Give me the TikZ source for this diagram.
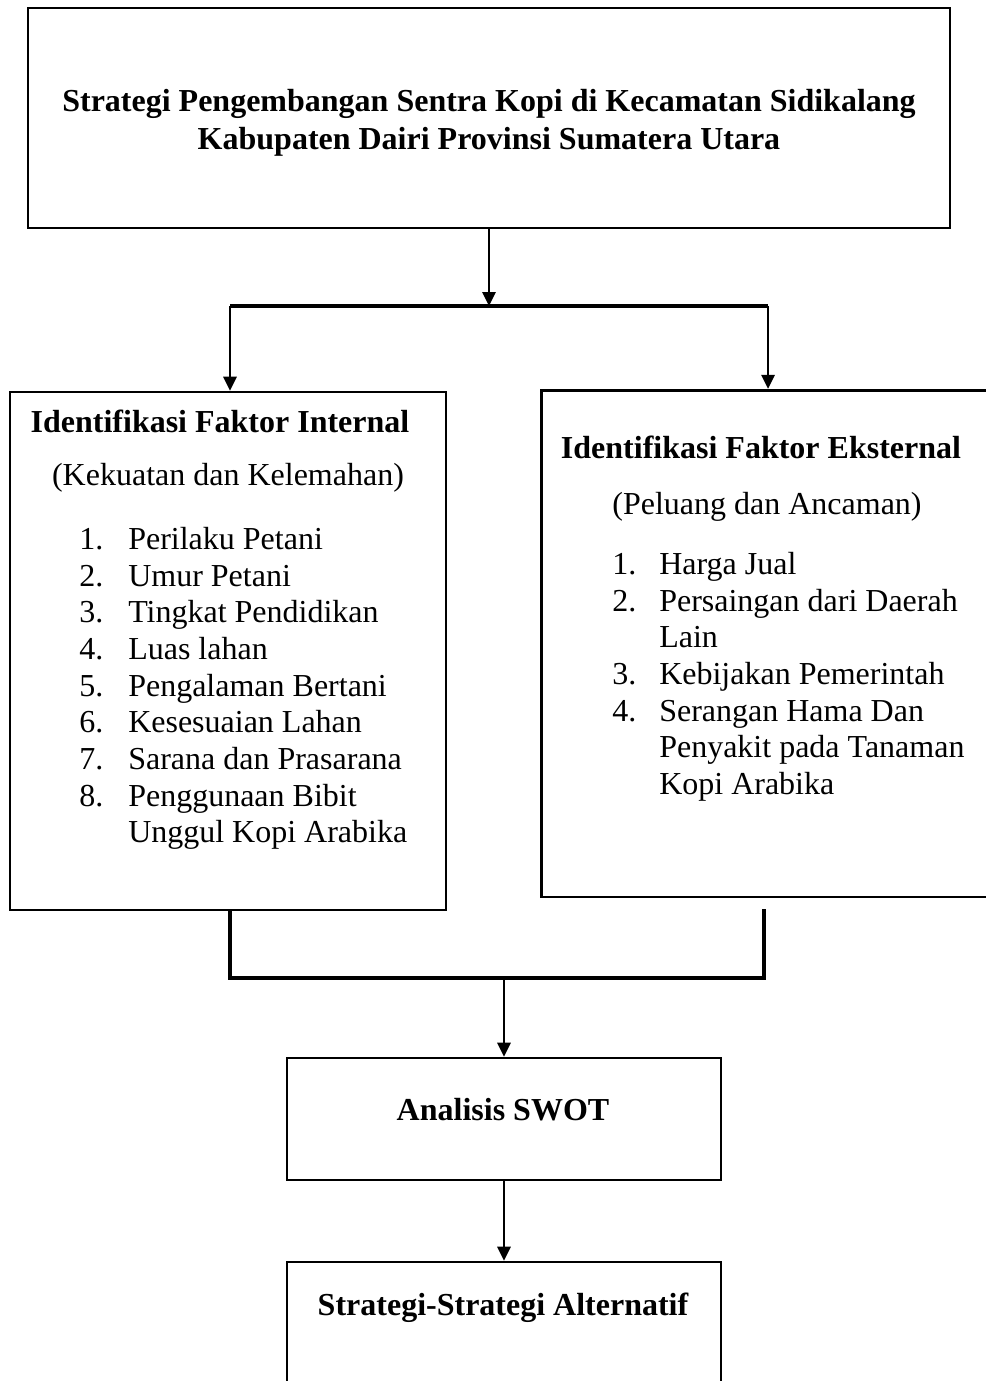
\documentclass[tikz,border=0pt]{standalone}
\usepackage{fontspec}
\setmainfont{Liberation Serif}
\usepackage{tikz}
\usetikzlibrary{arrows.meta, positioning}

\begin{document}
\begin{tikzpicture}[
            x=0.75pt, y=-0.75pt,
            box/.style={draw, line width=2pt, inner sep=0pt},
            txt/.style={inner sep=0pt, font=\fontsize{24}{27.5}\selectfont},
            head/.style={txt, font=\fontsize{24}{28.5}\selectfont\bfseries},
            list/.style={txt, align=left, anchor=north west},
            arrow/.style={-{Triangle[length=10.5pt, width=10pt]}, line width=1.6pt},
            bar/.style={-, line width=2.8pt}
        ]

        \useasboundingbox (0,0) rectangle (985,1381);

        % Boxes (manual layout to match figure)
        \node[box, minimum width=691.5pt, minimum height=165pt] (title) at (489,118) {};
        \node[box, minimum width=327pt, minimum height=388.5pt] (internal) at (228,651) {};
        \node[box, minimum width=344pt, minimum height=380pt] (eksternal) at (770.5,643.5) {};
        \node[box, minimum width=325.5pt, minimum height=91.5pt] (swot) at (504,1119) {};
        \node[box, minimum width=325.5pt, minimum height=103.5pt] (alt) at (504,1331) {};

        % Texts
        \node[head, align=center] (titletxt) at (489,123)
            {Strategi Pengembangan Sentra Kopi di Kecamatan Sidikalang\\
             Kabupaten Dairi Provinsi Sumatera Utara};

        \node[head] (inthead) at (220,421) {Identifikasi Faktor Internal};
        \node[txt] (intsub) at (228,478) {(Kekuatan dan Kelemahan)};
        \node[list] (intlist) at (79,527)
            {\makebox[36.75pt][l]{1.}Perilaku Petani\\
             \makebox[36.75pt][l]{2.}Umur Petani\\
             \makebox[36.75pt][l]{3.}Tingkat Pendidikan\\
             \makebox[36.75pt][l]{4.}Luas lahan\\
             \makebox[36.75pt][l]{5.}Pengalaman Bertani\\
             \makebox[36.75pt][l]{6.}Kesesuaian Lahan\\
             \makebox[36.75pt][l]{7.}Sarana dan Prasarana\\
             \makebox[36.75pt][l]{8.}Penggunaan Bibit\\
             \makebox[36.75pt][l]{}Unggul Kopi Arabika};

        \node[head] (exthead) at (761,447) {Identifikasi Faktor Eksternal};
        \node[txt] (extsub) at (767,507) {(Peluang dan Ancaman)};
        \node[list] (extlist) at (612,552)
            {\makebox[35.25pt][l]{1.}Harga Jual\\
             \makebox[35.25pt][l]{2.}Persaingan dari Daerah\\
             \makebox[35.25pt][l]{}Lain\\
             \makebox[35.25pt][l]{3.}Kebijakan Pemerintah\\
             \makebox[35.25pt][l]{4.}Serangan Hama Dan\\
             \makebox[35.25pt][l]{}Penyakit pada Tanaman\\
             \makebox[35.25pt][l]{}Kopi Arabika};

        \node[head] (swottxt) at (503,1110) {Analisis SWOT};
        \node[head] (alttxt) at (503,1308) {Strategi-Strategi Alternatif};

        % Junctions
        \coordinate (splitL) at (230,306);
        \coordinate (splitR) at (768,306);
        \coordinate (joinL) at (230,978);
        \coordinate (joinR) at (764,978);
        \coordinate (gapR) at (764,909);

        % Edges
        \draw[arrow] (title.south) -- (title.south |- splitL);
        \draw[bar] (splitL) -- (splitR);
        \draw[arrow] (splitL) -- (splitL |- internal.north);
        \draw[arrow] (splitR) -- (splitR |- eksternal.north);

        \draw[bar] (internal.south -| joinL) -- (joinL) -- (joinR) -- (gapR);
        \draw[arrow] (joinL -| swot.north) -- (swot.north);
        \draw[arrow] (swot.south) -- (alt.north);

    \end{tikzpicture}
\end{document}
